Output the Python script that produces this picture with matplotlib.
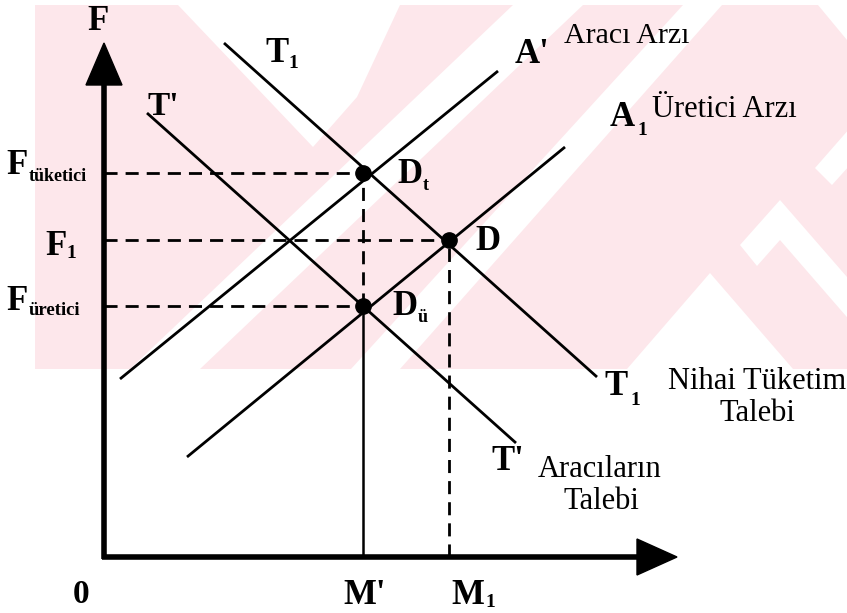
import matplotlib.pyplot as plt
from matplotlib.patches import Polygon

# corner of the two axes in the scanned figure (px)
ORIGIN_X, ORIGIN_Y = 104, 557
W, H = 847, 613

# curves as (quantity, price) end points
t1_q = [120, 493]   # T1 - nihai tüketim talebi
t1_p = [514, 180]
tp_q = [43, 412]    # T' - aracıların talebi
tp_p = [444, 114]
ap_q = [16, 394]    # A' - aracı arzı
ap_p = [178, 486]
a1_q = [83, 461]    # A1 - üretici arzı
a1_p = [100, 410]

# equilibrium points Dt, D, Dü
point_q = [259, 345, 259]
point_p = [384, 317, 251]

# price levels F tüketici, F1, F üretici and quantities M', M1
f_tuketici, f_1, f_uretici = 384, 317, 251
m_prime, m_1 = 259, 345

SERIF = 'Liberation Serif'
PINK = '#fde7eb'


def px(x, y):
    # picture pixel -> diagram coords
    return x - ORIGIN_X, ORIGIN_Y - y


fig = plt.figure(figsize=(W / 100, H / 100), dpi=100)
ax = fig.add_axes([0, 0, 1, 1])
ax.set_xlim(-ORIGIN_X, W - ORIGIN_X)
ax.set_ylim(ORIGIN_Y - H, ORIGIN_Y)
ax.axis('off')

# faint watermark in the background
ax.add_patch(Polygon([px(35, 5), px(847, 5), px(847, 369), px(35, 369)],
                     closed=True, fc=PINK, ec='none', zorder=0))
white_parts = [
    [(178, 5), (400, 5), (357, 97), (313, 147)],
    [(513, 5), (583, 5), (200, 369), (130, 369)],
    [(683, 5), (722, 5), (400, 369), (351, 369)],
    [(627, 369), (710, 273), (793, 369)],
    [(740, 245), (780, 200), (927, 369), (892, 369), (780, 240), (757, 266)],
    [(815, 168), (850, 128), (900, 185), (870, 185), (850, 165), (832, 185)],
    [(818, 5), (847, 5), (847, 40)],
]
for poly in white_parts:
    ax.add_patch(Polygon([px(x, y) for x, y in poly], closed=True,
                         fc='white', ec='none', zorder=0.5))

# axes with arrow heads
ax.plot([0, 0], [-2, 478], color='black', lw=4, solid_capstyle='butt', zorder=3)
ax.plot([-2, 540], [0, 0], color='black', lw=4, solid_capstyle='butt', zorder=3)
ax.fill([-18, 0, 18], [472, 514, 472], color='black', zorder=3)
ax.fill([533, 573, 533], [-18, 0, 18], color='black', zorder=3)

# the four curves
for q, p in [(t1_q, t1_p), (tp_q, tp_p), (ap_q, ap_p), (a1_q, a1_p)]:
    ax.plot(q, p, color='black', lw=2, solid_capstyle='butt', zorder=2)

# dashed guides
dash = dict(color='black', lw=2, dashes=(4.7, 2.9), zorder=2)
ax.plot([0, point_q[0]], [f_tuketici, f_tuketici], **dash)
ax.plot([0, point_q[1]], [f_1, f_1], **dash)
ax.plot([0, point_q[2]], [f_uretici, f_uretici], **dash)
ax.plot([m_prime, m_prime], [f_uretici, f_tuketici], **dash)
ax.plot([m_1, m_1], [0, f_1], **dash)
ax.plot([m_prime, m_prime], [0, f_uretici], color='black', lw=1.8, zorder=2)

ax.plot(point_q, point_p, 'o', color='black', ms=11, zorder=4)

# labels: text, left x, baseline y (px), size, bold
labels = [
    ('F', 87, 30, 25, True),
    ('T', 265, 62, 25, True), ('1', 288, 68, 14, True),
    ("T'", 147, 115, 24, True),
    ("A'", 515, 63, 25, True),
    ('Aracı Arzı', 564, 43, 21.5, False),
    ('A', 610, 126, 25, True), ('1', 637, 135, 14, True),
    ('Üretici Arzı', 652, 117, 22, False),
    ('F', 6, 174, 25, True), ('tüketici', 29, 181, 13, True),
    ('F', 45, 255, 25, True), ('1', 66, 258, 14, True),
    ('F', 6, 310, 25, True), ('üretici', 29, 315, 13.5, True),
    ('D', 397, 183, 25, True), ('t', 423, 190, 13, True),
    ('D', 475, 250, 25, True),
    ('D', 392, 315, 25, True), ('ü', 418, 322, 13, True),
    ('T', 604, 395, 25, True), ('1', 630, 405, 14, True),
    ('Nihai Tüketim', 668, 389, 22, False),
    ("T'", 491, 470, 25, True),
    ('Aracıların', 538, 477, 22, False),
    ('0', 73, 603, 24, True),
    ("M'", 343, 604, 25, True),
    ('M', 451, 604, 25, True), ('1', 485, 607, 14, True),
]
for s, x, y, size, bold in labels:
    ax.text(*px(x, y), s, fontsize=size, family=SERIF,
            fontweight='bold' if bold else 'normal', ha='left', va='baseline')

for s, x, y in [('Talebi', 757, 421), ('Talebi', 601, 509)]:
    ax.text(*px(x, y), s, fontsize=22, family=SERIF, ha='center', va='baseline')

fig.savefig('out.png', dpi=100)
